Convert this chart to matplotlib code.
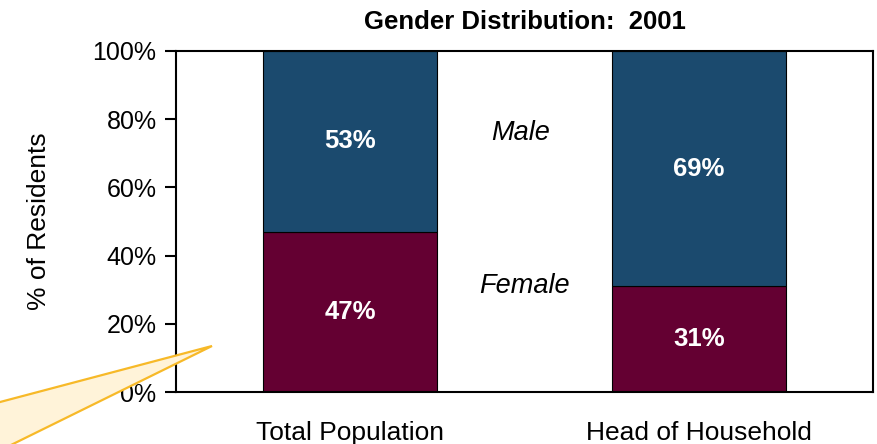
import matplotlib
matplotlib.use("Agg")
import matplotlib.pyplot as plt
from matplotlib.patches import Polygon
from matplotlib.ticker import PercentFormatter

plt.rcParams['font.family'] = ['Liberation Sans', 'DejaVu Sans']

categories = ['Total Population', 'Head of Household']
female = [47, 31]
male = [53, 69]
yticks = [0, 20, 40, 60, 80, 100]

navy = '#1B4A6E'
maroon = '#640032'

W, H = 877, 444
fig = plt.figure(figsize=(W / 100, H / 100), dpi=100)
ax = fig.add_axes([176 / W, (H - 392) / H, (873 - 176) / W, (392 - 51) / H])

x = range(len(categories))
ax.bar(x, female, width=0.5, color=maroon, edgecolor='black', linewidth=0.8)
ax.bar(x, male, width=0.5, bottom=female, color=navy, edgecolor='black', linewidth=0.8)

for i in x:
    ax.text(i, female[i] / 2, f'{female[i]}%', ha='center', va='center',
            color='white', fontsize=18.5, fontweight='bold')
    ax.text(i, female[i] + male[i] / 2, f'{male[i]}%', ha='center', va='center',
            color='white', fontsize=18.5, fontweight='bold')

ax.text(0.49, 76, 'Male', ha='center', va='center', fontsize=19.5, style='italic')
ax.text(0.5, 31, 'Female', ha='center', va='center', fontsize=19.5, style='italic')

ax.set_xlim(-0.5, 1.5)
ax.set_ylim(0, 100)
ax.set_yticks(yticks)
ax.yaxis.set_major_formatter(PercentFormatter(decimals=0))
ax.set_xticks(list(x))
ax.set_xticklabels(categories)
ax.tick_params(axis='y', labelsize=18, length=8, width=1.5, pad=6)
ax.tick_params(axis='x', labelsize=19, length=0, pad=21)
for s in ax.spines.values():
    s.set_linewidth(1.5)
ax.set_ylabel('% of Residents', fontsize=19, labelpad=30)
ax.set_title('Gender Distribution:  2001', fontsize=18.5, fontweight='bold', pad=16)

# callout pointer in the lower left corner
pts = [(212, 346), (-40, 412.6), (-100.7, 500)]
poly = Polygon([(px / W, (H - py) / H) for px, py in pts], closed=True,
               transform=fig.transFigure, facecolor='#FFF3D9', edgecolor='#F7B928',
               linewidth=1.6, zorder=10)
fig.patches.append(poly)

fig.savefig('out.png', dpi=100)
